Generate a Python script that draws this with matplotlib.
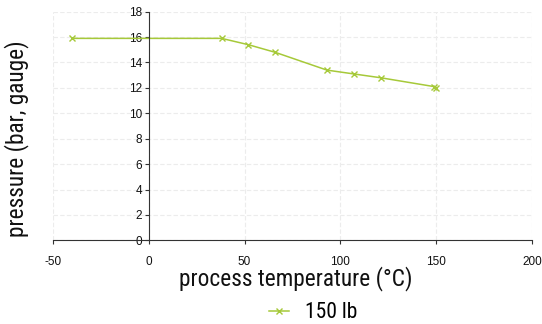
import matplotlib
matplotlib.use("Agg")
import matplotlib.pyplot as plt

plt.rcParams['axes.unicode_minus'] = False

temperature_c = [-40, 38, 52, 66, 93, 107, 121, 149, 150]
pressure_bar = [15.9, 15.9, 15.4, 14.8, 13.4, 13.1, 12.8, 12.1, 12.0]
series_name = "150 lb"
x_ticks = [-50, 0, 50, 100, 150, 200]
y_ticks = [0, 2, 4, 6, 8, 10, 12, 14, 16, 18]

line_color = "#a6c939"
tick_font = "Liberation Sans"
label_font = ["Roboto Condensed", "Fira Sans Condensed",
              "Sofia Sans Condensed", "Liberation Sans"]

fig = plt.figure(figsize=(5.42, 3.24), dpi=100)
ax = fig.add_axes([0.0978, 0.2583, 0.8837, 0.7056])

ax.plot(temperature_c, pressure_bar, color=line_color, lw=1.1,
        marker="x", ms=5, mew=1.0, label=series_name)

ax.set_xlim(-50, 200)
ax.set_ylim(0, 18)
ax.set_xticks(x_ticks)
ax.set_yticks(y_ticks)

ax.grid(True, color="#ececec", lw=0.8, ls=(0, (4, 2)))
ax.set_axisbelow(True)

for side in ("top", "right"):
    ax.spines[side].set_visible(False)
ax.spines['left'].set_position(('data', 0))
ax.spines['left'].set_color("#333333")
ax.spines['bottom'].set_color("#333333")

ax.tick_params(axis='both', direction='out', length=3, width=0.8,
               colors="#333333", labelcolor="#111111")
ax.tick_params(axis='x', pad=8)
ax.tick_params(axis='y', pad=2)
for lab in ax.get_xticklabels() + ax.get_yticklabels():
    lab.set_fontfamily(tick_font)
    lab.set_fontsize(8.5)

fig.text(0.031, 0.573, "pressure (bar, gauge)", rotation=90, ha='center',
         va='center', family=label_font, fontsize=16.8, color="#111111")
fig.text(0.545, 0.14, "process temperature (°C)", ha='center', va='center',
         family=label_font, fontsize=16.8, color="#111111")

leg = fig.legend(loc='center', bbox_to_anchor=(0.578, 0.034), frameon=False,
                 handlelength=0.9, handletextpad=0.75,
                 prop={'family': label_font, 'size': 15.5})

fig.savefig("out.png", dpi=100)
